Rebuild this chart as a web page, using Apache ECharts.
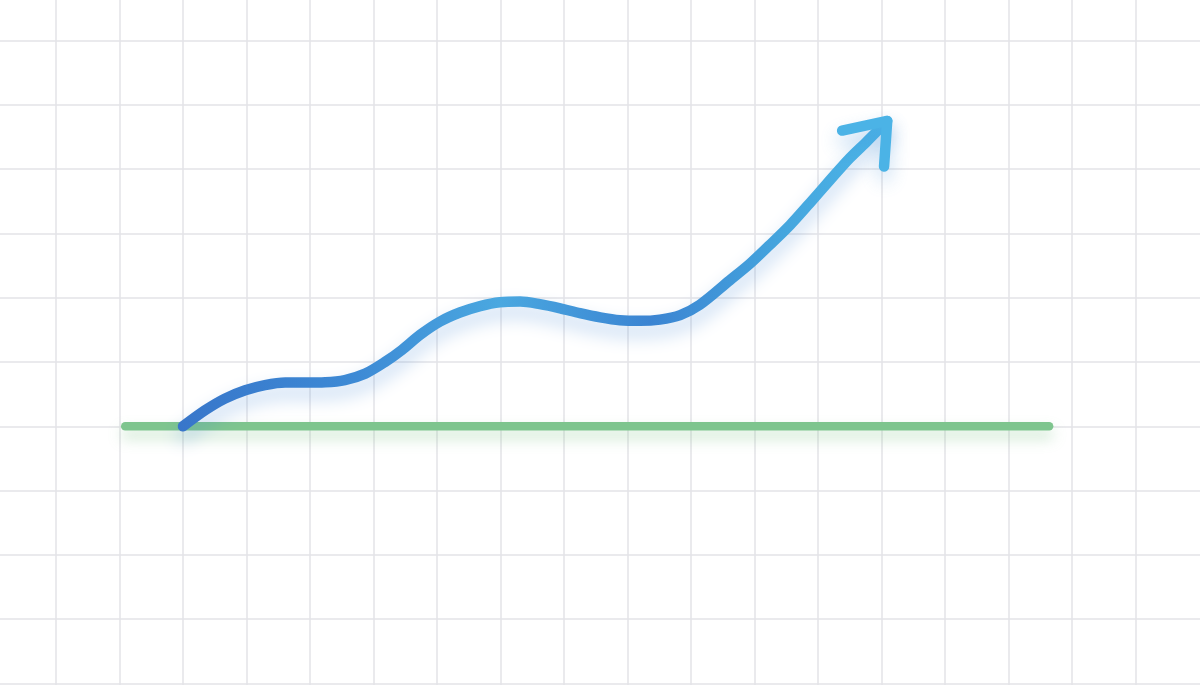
<!DOCTYPE html>
<html>
<head>
<meta charset="utf-8">
<script src="https://cdn.jsdelivr.net/npm/echarts@6/dist/echarts.min.js"></script>
<style>
html,body{margin:0;padding:0;background:#ffffff;}
#c{width:1200px;height:685px;}
</style>
</head>
<body>
<div id="c"></div>
<script>
// Values in grid-cell units (one cell = 1)
const curveX = [2.00, 2.35, 2.66, 2.98, 3.29, 3.61, 3.92, 4.24, 4.55, 4.87, 5.18, 5.45, 5.73, 6.05, 6.36, 6.68, 6.99, 7.31, 7.62, 7.94, 8.25, 8.57, 8.88, 9.20, 9.51, 9.83, 10.14, 10.61, 10.93, 11.24, 11.56, 11.87, 12.19, 12.50, 12.77, 13.09];
const curveY = [0.00, 0.25, 0.43, 0.56, 0.64, 0.68, 0.68, 0.685, 0.72, 0.82, 1.00, 1.19, 1.42, 1.63, 1.77, 1.87, 1.93, 1.94, 1.90, 1.835, 1.76, 1.695, 1.65, 1.64, 1.66, 1.73, 1.89, 2.27, 2.53, 2.82, 3.13, 3.47, 3.83, 4.17, 4.43, 4.75];
const arrowX = [12.38, 13.09, 13.04];
const arrowY = [4.60, 4.75, 4.04];
const baseX = [1.09, 15.64];
const baseY = [0, 0];

const zip = (xs, ys) => xs.map((x, i) => [x, ys[i]]);

const blueGrad = new echarts.graphic.LinearGradient(0, 0, 1, 0, [
  {offset: 0, color: '#3876ca'},
  {offset: 0.25, color: '#3d8ad5'},
  {offset: 0.45, color: '#4aa8e0'},
  {offset: 0.66, color: '#3b84d2'},
  {offset: 0.85, color: '#45a6de'},
  {offset: 1, color: '#4db6e8'}
]);

const gridLine = {show: true, lineStyle: {color: '#e3e3e7', width: 1.5}};
const hidden = {axisLine: {show: false}, axisTick: {show: false}, axisLabel: {show: false}};

const chart = echarts.init(document.getElementById('c'));
chart.setOption({
  backgroundColor: '#ffffff',
  animation: false,
  grid: [
    {left: 0, right: 0, top: 40.5, bottom: 1.5, containLabel: false},
    {left: 56, right: 64.5, top: 0, bottom: 0, containLabel: false}
  ],
  xAxis: [
    Object.assign({gridIndex: 0, type: 'value', min: 0, max: 1, splitLine: {show: false}}, hidden),
    Object.assign({gridIndex: 1, type: 'value', min: 0, max: 17, interval: 1, splitLine: gridLine}, hidden)
  ],
  yAxis: [
    Object.assign({gridIndex: 0, type: 'value', min: -4, max: 6, interval: 1, splitLine: gridLine}, hidden),
    Object.assign({gridIndex: 1, type: 'value', min: -4.023, max: 6.630, splitLine: {show: false}}, hidden)
  ],
  series: [
    {
      type: 'line', xAxisIndex: 1, yAxisIndex: 1, data: zip(baseX, baseY), symbol: 'none', silent: true,
      lineStyle: {color: '#7ec58e', width: 8.5, cap: 'round',
        shadowColor: 'rgba(110,185,120,0.35)', shadowBlur: 14, shadowOffsetY: 8}
    },
    {
      type: 'line', xAxisIndex: 1, yAxisIndex: 1, data: zip(curveX, curveY), symbol: 'none', smooth: 0.3, silent: true,
      lineStyle: {color: blueGrad, width: 10.5, cap: 'round', join: 'round',
        shadowColor: 'rgba(60,130,210,0.32)', shadowBlur: 18, shadowOffsetY: 10}
    },
    {
      type: 'line', xAxisIndex: 1, yAxisIndex: 1, data: zip(arrowX, arrowY), symbol: 'none', silent: true,
      lineStyle: {color: '#4bb3e6', width: 10.5, cap: 'round', join: 'round',
        shadowColor: 'rgba(60,140,215,0.32)', shadowBlur: 18, shadowOffsetY: 10}
    }
  ]
});
</script>
</body>
</html>
